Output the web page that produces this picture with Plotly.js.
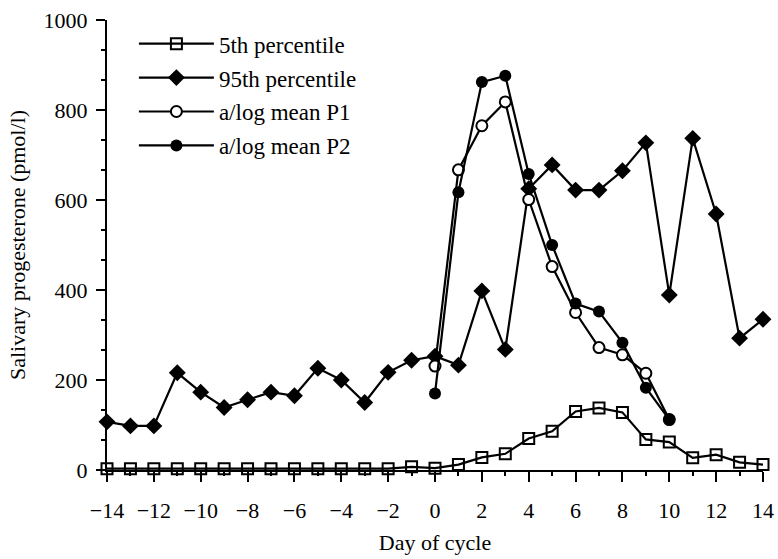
<!DOCTYPE html>
<html>
<head>
<meta charset="utf-8">
<script src="https://cdn.plot.ly/plotly-3.0.1.min.js"></script>
<style>html,body{margin:0;padding:0;background:#fff;}#chart{width:778px;height:559px;}</style>
</head>
<body>
<div id="chart"></div>
<script>
// Days of cycle
const daysAll = [-14,-13,-12,-11,-10,-9,-8,-7,-6,-5,-4,-3,-2,-1,0,1,2,3,4,5,6,7,8,9,10,11,12,13,14];
const daysLuteal = [0,1,2,3,4,5,6,7,8,9,10];

// Salivary progesterone (pmol/l)
const p5th  = [3,3,3,3,3,3,3,3,3,3,3,3,3,7,4,12,28,36,70,86,130,138,128,68,62,27,34,17,12];
const p95th = [107,98,98,216,173,139,156,173,165,226,200,150,217,244,253,233,398,268,625,678,622,622,665,727,389,737,569,293,335];
const meanP1 = [231,667,765,818,601,452,350,272,256,215,112];
const meanP2 = [170,617,862,876,658,500,370,352,283,183,112];

const xTickVals = [-14,-12,-10,-8,-6,-4,-2,0,2,4,6,8,10,12,14];
const yTickVals = [0,200,400,600,800,1000];

const FONT = 'Liberation Serif, Times New Roman, serif';
const lineStyle = {color:'#000', width:2.2};

const traces = [
  {x: daysAll, y: p5th, name: '5th percentile', mode: 'lines+markers', legendgroup:'a',
   line: lineStyle, marker: {symbol:'square-open', size:11, color:'#000', line:{width:2}}, cliponaxis:false},
  {x: daysAll, y: p95th, name: '95th percentile', mode: 'lines+markers', legendgroup:'b',
   line: lineStyle, marker: {symbol:'diamond', size:13, color:'#000'}, cliponaxis:false},
  {x: daysLuteal, y: meanP1, name: 'a/log mean P1', mode: 'lines+markers', legendgroup:'c',
   line: lineStyle, marker: {symbol:'circle', size:11, color:'#fff', line:{color:'#000', width:2}}, cliponaxis:false},
  {x: daysLuteal, y: meanP2, name: 'a/log mean P2', mode: 'lines+markers', legendgroup:'d',
   line: lineStyle, marker: {symbol:'circle', size:12, color:'#000'}, cliponaxis:false}
];

const layout = {
  width: 778, height: 559,
  margin: {l:107, r:15, t:20, b:89},
  paper_bgcolor:'#fff', plot_bgcolor:'#fff',
  font: {family: FONT, size: 22, color:'#000'},
  showlegend: true,
  legend: {x: 0.041, y: 0.995, xanchor:'left', yanchor:'top', bgcolor:'rgba(0,0,0,0)',
           font:{family: FONT, size: 23, color:'#000'}, tracegroupgap: 1, itemwidth: 75},
  xaxis: {
    range: [-14, 14], tickvals: xTickVals, ticks:'outside', ticklen: 10, tickwidth: 2, tickcolor:'#000',
    showline: true, linewidth: 2, linecolor:'#000', showgrid:false, zeroline:false,
    minor: {dtick: 1, tick0: 0, ticks:'outside', ticklen: 4, tickwidth: 2, tickcolor:'#000', showgrid:false},
    ticklabelstandoff: 10,
    title: {text: 'Day of cycle', font:{family: FONT, size: 22}, standoff: 12}
  },
  yaxis: {
    range: [0, 1000], tickvals: yTickVals, ticks:'outside', ticklen: 9, tickwidth: 2, tickcolor:'#000',
    showline: true, linewidth: 2, linecolor:'#000', showgrid:false, zeroline:false,
    minor: {dtick: 200/3, tick0: 0, ticks:'outside', ticklen: 4, tickwidth: 2, tickcolor:'#000', showgrid:false},
    ticklabelstandoff: 4,
    title: {text: 'Salivary progesterone (pmol/l)', font:{family: FONT, size: 22}, standoff: 12}
  }
};

Plotly.newPlot('chart', traces, layout, {displayModeBar:false, staticPlot:true});
</script>
</body>
</html>
